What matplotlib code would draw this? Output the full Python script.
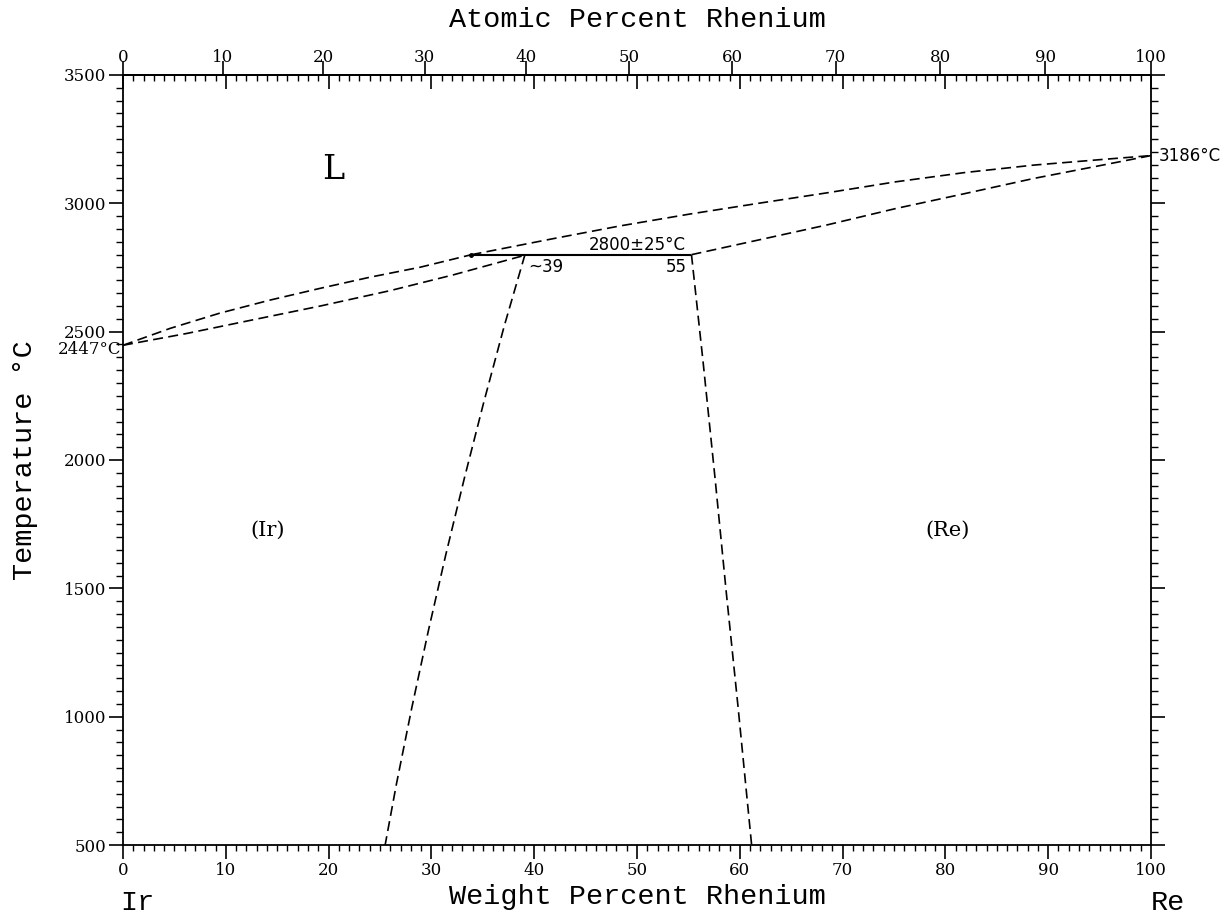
import numpy as np
import matplotlib
matplotlib.use("Agg")
import matplotlib.pyplot as plt

# ---------------- data ----------------
# Ir-side liquidus (wt% Re, T degC)
liq_ir_wt = [0.0, 4.6, 9.4, 14.3, 19.2, 24.0, 28.9, 33.9]
liq_ir_T = [2447, 2513, 2572, 2623, 2669, 2712, 2751, 2800]
# Ir-side solidus
sol_ir_wt = [0.0, 6.2, 12.5, 19.2, 26.0, 32.1, 39.3]
sol_ir_T = [2447, 2493, 2545, 2600, 2660, 2721, 2800]
# (Ir) solvus
solv_ir_wt = [39.1, 37.1, 35.1, 33.2, 31.4, 29.7, 28.1, 26.6, 25.5]
solv_ir_T = [2800, 2524, 2226, 1928, 1631, 1334, 1036, 738, 500]
# Re-side liquidus
liq_re_wt = [33.9, 41.8, 48.35, 55.1, 61.8, 68.5, 75.2, 81.9, 88.6, 95.3, 100.0]
liq_re_T = [2800, 2862, 2912, 2958, 3000, 3041, 3084, 3120, 3149, 3171, 3186]
# Re-side solidus
sol_re_wt = [55.3, 61.8, 68.5, 75.2, 81.9, 88.6, 95.3, 100.0]
sol_re_T = [2800, 2857, 2916, 2980, 3038, 3097, 3149, 3186]
# (Re) solvus
solv_re_wt = [55.3, 56.45, 57.6, 58.7, 59.85, 61.15]
solv_re_T = [2800, 2374, 1926, 1478, 1030, 500]
# peritectic
perit_wt = [33.9, 55.3]
perit_T = [2800, 2800]

x_ticks = list(range(0, 101, 10))
y_ticks = list(range(500, 3501, 500))
at_ticks = list(range(0, 101, 10))

M_RE = 186.207
M_IR = 192.217


def wt2at(w):
    w = np.asarray(w, dtype=float)
    a = w / M_RE
    b = (100.0 - w) / M_IR
    with np.errstate(divide="ignore", invalid="ignore"):
        return 100.0 * a / (a + b)


def at2wt(a):
    a = np.asarray(a, dtype=float)
    x = a * M_RE
    y = (100.0 - a) * M_IR
    with np.errstate(divide="ignore", invalid="ignore"):
        return 100.0 * x / (x + y)


# ---------------- figure ----------------
W, H = 1226, 918
fig = plt.figure(figsize=(W / 100, H / 100), dpi=100)
L, R, T, B = 123, 1151, 75, 845
ax = fig.add_axes([L / W, 1 - B / H, (R - L) / W, (B - T) / H])
ax.set_xlim(0, 100)
ax.set_ylim(500, 3500)

for s in ax.spines.values():
    s.set_linewidth(1.3)

dash = (0, (6, 3.2))
lw = 1.2
for xs, ys in [(liq_ir_wt, liq_ir_T), (sol_ir_wt, sol_ir_T), (solv_ir_wt, solv_ir_T),
               (liq_re_wt, liq_re_T), (sol_re_wt, sol_re_T), (solv_re_wt, solv_re_T)]:
    ax.plot(xs, ys, color="black", lw=lw, linestyle=dash)
ax.plot(perit_wt, perit_T, color="black", lw=1.5, solid_capstyle="butt")
ax.plot([perit_wt[0]], [perit_T[0]], "o", color="black", ms=2.5)

# ticks
tick_font = dict(family="DejaVu Serif", size=12)
ax.set_xticks(x_ticks)
ax.set_xticks(np.arange(0, 101, 1), minor=True)
ax.set_yticks(y_ticks)
ax.set_yticks(np.arange(500, 3501, 50), minor=True)
ax.set_xticklabels([str(v) for v in x_ticks], **tick_font)
ax.set_yticklabels([str(v) for v in y_ticks], **tick_font)
ax.tick_params(axis="x", which="major", direction="out", length=10, width=1.2,
               top=False, bottom=True, pad=2)
ax.tick_params(axis="x", which="minor", direction="out", length=4.5, width=1.0,
               top=False, bottom=True)
ax.tick_params(axis="y", which="major", direction="out", length=10, width=1.2,
               left=True, right=True, pad=2)
ax.tick_params(axis="y", which="minor", direction="out", length=5, width=1.0,
               left=True, right=True)

# top: weight-percent ticks pointing inward (no labels)
top_wt = ax.secondary_xaxis("top")
top_wt.set_xticks(x_ticks)
top_wt.set_xticks(np.arange(0, 101, 1), minor=True)
top_wt.tick_params(which="major", direction="in", length=10, width=1.2, labeltop=False)
top_wt.tick_params(which="minor", direction="in", length=4.5, width=1.0)
top_wt.set_xticklabels([])
top_wt.spines["top"].set_linewidth(1.3)

# top: atomic-percent ticks pointing outward with labels
top_at = ax.secondary_xaxis("top", functions=(wt2at, at2wt))
top_at.set_xticks(at_ticks)
top_at.set_xticklabels([str(v) for v in at_ticks], **tick_font)
top_at.tick_params(which="major", direction="out", length=10, width=1.2, pad=-3.5)
top_at.tick_params(which="minor", length=0)
top_at.spines["top"].set_linewidth(1.3)

# axis titles
mono = dict(family="Liberation Mono", size=20.5)
ax.text(0.5, -0.0675, "Weight Percent Rhenium", transform=ax.transAxes,
        ha="center", va="center", **mono)
ax.text(0.5, 1.0714, "Atomic Percent Rhenium", transform=ax.transAxes,
        ha="center", va="center", **mono)
ax.text(-0.0953, 0.5, "Temperature °C", transform=ax.transAxes, rotation=90,
        ha="center", va="center", **mono)
ax.text(0.0141, -0.0754, "Ir", transform=ax.transAxes, ha="center", va="center", **mono)
ax.text(1.0165, -0.0754, "Re", transform=ax.transAxes, ha="center", va="center", **mono)

# annotations
ax.text(20.4, 3130, "L", family="DejaVu Serif", size=24, ha="center", va="center")
ax.text(14.1, 1727, "(Ir)", family="DejaVu Serif", size=15, ha="center", va="center")
ax.text(80.2, 1727, "(Re)", family="DejaVu Serif", size=15, ha="center", va="center")
sans = dict(family="DejaVu Sans", size=12)
ax.text(50.0, 2838, "2800±25°C", ha="center", va="center", **sans)
ax.text(39.4, 2752, "~39", ha="left", va="center", **sans)
ax.text(54.8, 2752, "55", ha="right", va="center", **sans)
ax.text(100.7, 3186, "3186°C", ha="left", va="center", **sans)
ax.text(-0.2, 2430, "2447°C", ha="right", va="center", clip_on=False, **tick_font)

fig.savefig("out.png", dpi=100)
